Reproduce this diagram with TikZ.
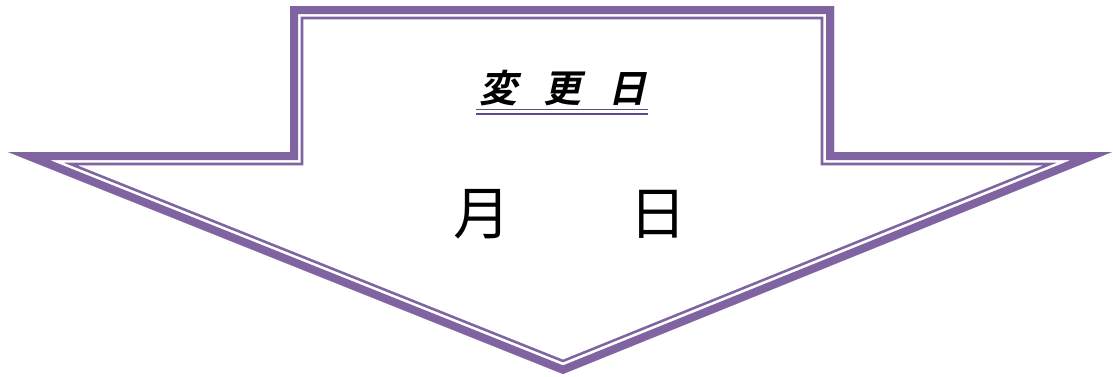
\documentclass[tikz,border=0pt]{standalone}
\usepackage{fontspec}
\newfontfamily\cjk{Noto Sans CJK JP}
\newfontfamily\cjkt[FakeSlant=0.22]{Noto Sans CJK JP Bold}
\definecolor{arrowpurple}{HTML}{8064A2}
\definecolor{ulpurple}{HTML}{5F4B8B}
\tikzset{
  arrowshape/.style={insert path={(290,6) -- (834,6) -- (834,152) -- (1112,152) -- (563,374) -- (8,152) -- (290,152) -- cycle}},
  titletext/.style={font=\cjkt\fontsize{28.5pt}{32pt}\selectfont, inner sep=0pt},
  datetext/.style={font=\cjk\fontsize{43pt}{48pt}\selectfont, inner sep=0pt},
  ulline/.style={ulpurple}
}
\begin{document}
\begin{tikzpicture}[x=0.75pt,y=-0.75pt, line join=miter, miter limit=30]
\fill[white] (0,0) rectangle (1113,376);
\useasboundingbox (0,0) rectangle (1113,376);
\begin{scope}
\clip[arrowshape];
\draw[arrowpurple, line width=20pt, arrowshape];
\draw[white, line width=16pt, arrowshape];
\draw[arrowpurple, line width=12pt, arrowshape];
\end{scope}
\node[titletext] (title) at (563,88) {変\hspace{20pt}更\hspace{20pt}日};
\coordinate (ulA) at (476,109.3);
\coordinate (ulB) at (648,109.3);
\coordinate (ulC) at (476,113.5);
\coordinate (ulD) at (648,113.5);
\draw[ulline, line width=1pt] (ulA) -- (ulB);
\draw[ulline, line width=1.5pt] (ulC) -- (ulD);
\node[datetext] (date) at (570,214) {月\hspace{\dimexpr2em+3pt\relax}日};
\end{tikzpicture}
\end{document}
